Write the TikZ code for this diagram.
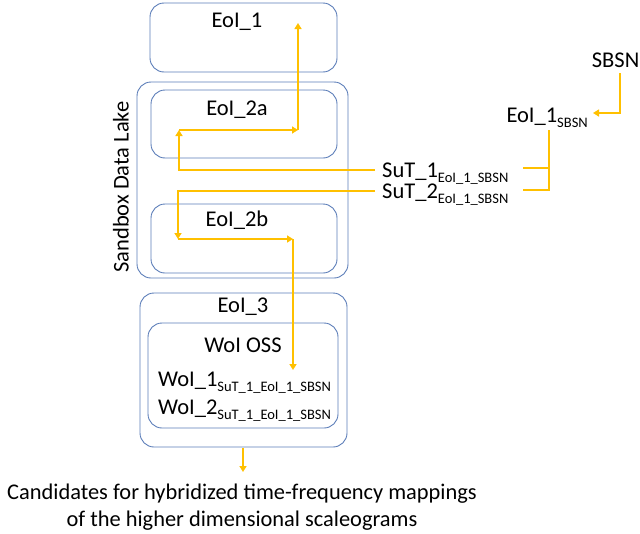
\documentclass[tikz,border=0pt]{standalone}
\usepackage{fontspec}
\setmainfont{Carlito}
\usetikzlibrary{arrows.meta}
\definecolor{boxblue}{HTML}{5B7DB8}
\definecolor{conncol}{HTML}{FFC000}
\newcommand\mysub[1]{\raisebox{-5pt}{\fontsize{14.5}{15}\selectfont #1}}
\tikzset{
  box/.style={draw=boxblue, line width=0.9pt, rounded corners=14pt, inner sep=0pt},
  lbl/.style={inner sep=0pt, font=\fontsize{22.5}{27}\selectfont},
  conn/.style={draw=conncol, line width=1.6pt, -{Triangle[width=7pt,length=6pt]}},
  plain/.style={draw=conncol, line width=1.6pt}
}
\begin{document}
\begin{tikzpicture}[x=1pt,y=-1pt]
\useasboundingbox (0,0) rectangle (640,533);
% boxes
\node[box, minimum width=187pt, minimum height=69pt] (b1) at (243.5,37.5) {};
\node[box, minimum width=211pt, minimum height=196pt] (sand) at (242.5,180) {};
\node[box, minimum width=186pt, minimum height=68pt] (b2a) at (244,124) {};
\node[box, minimum width=186pt, minimum height=69pt] (b2b) at (244,238.5) {};
\node[box, minimum width=207pt, minimum height=154pt] (b3) at (243.5,370) {};
\node[box, minimum width=190pt, minimum height=105pt] (woss) at (243,375.5) {};
% labels
\node[lbl] (t1) at (237,22) {EoI\_1};
\node[lbl] (t2a) at (237,110) {EoI\_2a};
\node[lbl] (t2b) at (237,220) {EoI\_2b};
\node[lbl, rotate=90] (tsand) at (121,187) {Sandbox Data Lake};
\node[lbl] (t3) at (243,307) {EoI\_3};
\node[lbl] (tw) at (243,345) {WoI OSS};
\node[lbl, anchor=base west] (w1) at (158,386) {WoI\_1\mysub{SuT\_1\_EoI\_1\_SBSN}};
\node[lbl, anchor=base west] (w2) at (158,414) {WoI\_2\mysub{SuT\_1\_EoI\_1\_SBSN}};
\node[lbl, anchor=base west] (s1) at (382,177) {SuT\_1\mysub{EoI\_1\_SBSN}};
\node[lbl, anchor=base west] (s2) at (382,198) {SuT\_2\mysub{EoI\_1\_SBSN}};
\node[lbl, anchor=east] (sbsn) at (639.5,60) {SBSN};
\node[lbl, anchor=base east] (e1s) at (588,122) {EoI\_1\mysub{SBSN}};
\node[lbl, align=center, font=\fontsize{22.4}{27}\selectfont] (cap) at (242,507) {Candidates for hybridized time-frequency mappings\\of the higher dimensional scaleograms};
% coordinates
\coordinate (p1) at (179,130);
\coordinate (p2) at (298,130);
\coordinate (p3) at (298,23);
\coordinate (q0) at (375,191);
\coordinate (q1) at (178,239);
\coordinate (q2) at (293,239);
\coordinate (q3) at (293,370);
\coordinate (r0) at (375,170);
\coordinate (sb1) at (620,73);
\coordinate (sb2) at (593,113);
\coordinate (br0) at (549,130);
\coordinate (br1) at (549,190);
\coordinate (br2) at (523,168);
\coordinate (br3) at (523,190);
\coordinate (o1) at (243,448);
\coordinate (o2) at (243,472);
% connectors
\draw[conn] (r0) -| (p1);
\draw[conn] (p1) -- (p2);
\draw[conn] (p2) -- (p3);
\draw[conn] (q0) -| (q1);
\draw[conn] (q1) -- (q2);
\draw[conn] (q2) -- (q3);
\draw[conn] (sb1) |- (sb2);
\draw[plain] (br0) -- (br1) -- (br3);
\draw[plain] (br2) -- (br2 -| br0);
\draw[conn] (o1) -- (o2);
\end{tikzpicture}
\end{document}
